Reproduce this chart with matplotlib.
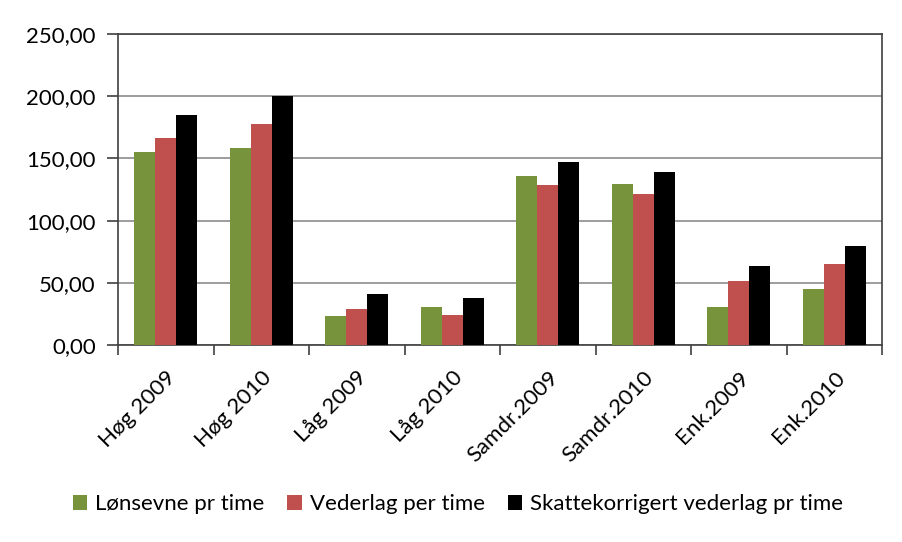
import matplotlib
matplotlib.use("Agg")
import matplotlib.pyplot as plt
import numpy as np
from matplotlib.ticker import FuncFormatter

plt.rcParams['font.family'] = ['Lato', 'DejaVu Sans']

categories = ["Høg 2009", "Høg 2010", "Låg 2009", "Låg 2010",
              "Samdr.2009", "Samdr.2010", "Enk.2009", "Enk.2010"]
lonsevne = [155, 158.5, 23, 30.7, 135.7, 129.8, 30.7, 45.1]
vederlag = [166.4, 178, 28.8, 24, 128.8, 121.3, 51.8, 65.5]
skattekorr = [185, 200, 40.6, 37.4, 147.2, 139.4, 63.5, 79.3]
series_names = ["Lønsevne pr time", "Vederlag per time",
                "Skattekorrigert vederlag pr time"]
colors = ["#77933C", "#C0504D", "#000000"]

fig = plt.figure(figsize=(9.02, 5.42), dpi=100)
ax = fig.add_axes([118/902, 1-345/542, (882-118)/902, (345-34)/542])

x = np.arange(len(categories))
w = 0.22
for i, (vals, name, c) in enumerate(zip([lonsevne, vederlag, skattekorr], series_names, colors)):
    ax.bar(x + (i-1)*w, vals, width=w, color=c, label=name, zorder=3)

ax.set_xlim(-0.5, len(categories)-0.5)
ax.set_ylim(0, 250)
ax.set_yticks(np.arange(0, 251, 50))
ax.yaxis.set_major_formatter(FuncFormatter(lambda v, p: f"{v:.2f}".replace(".", ",")))
ax.grid(axis='y', color='#8c8c8c', linewidth=1.2, zorder=0)
for s in ax.spines.values():
    s.set_color('#404040')
    s.set_linewidth(1.2)

ax.set_xticks(x)
ax.set_xticklabels(categories, rotation=45, ha='right', rotation_mode='anchor', fontsize=16)
ax.tick_params(axis='x', length=0, pad=16)
ax.set_xticks(np.arange(-0.5, len(categories)), minor=True)
ax.tick_params(axis='x', which='minor', length=7, color='#404040', width=1.2)
ax.tick_params(axis='y', length=8, color='#404040', width=1.2, labelsize=16, pad=8)

ax.legend(loc='center', bbox_to_anchor=(0.445, -0.512), ncol=3, frameon=False,
          fontsize=16, handlelength=0.65, handleheight=0.65, handletextpad=0.35,
          columnspacing=1.05)

fig.savefig("out.png", dpi=100)
